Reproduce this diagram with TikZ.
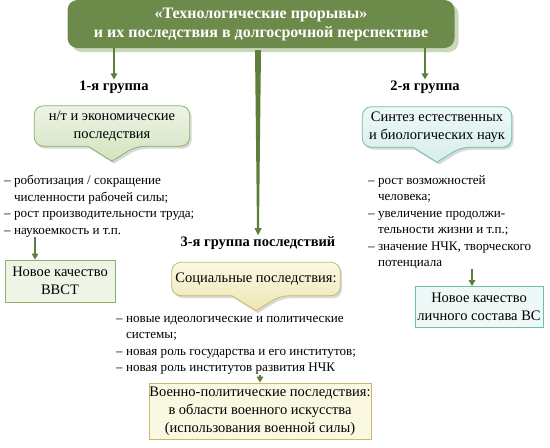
\documentclass[tikz,border=0pt]{standalone}
\usepackage{fontspec}
\setmainfont{Liberation Serif}
\usetikzlibrary{arrows.meta,positioning,calc,backgrounds,shadows}
\definecolor{ttlgreen}{HTML}{6C8B4B}
\definecolor{ttlshade}{HTML}{CAD8BA}
\definecolor{arrgreen}{HTML}{5E7E3A}
\definecolor{g1line}{HTML}{8DB06B}
\definecolor{g1top}{HTML}{EEF4E6}
\definecolor{g1bot}{HTML}{D3E3BF}
\definecolor{g2line}{HTML}{6DBDB0}
\definecolor{g2top}{HTML}{EEF8F7}
\definecolor{g2bot}{HTML}{D6EEEB}
\definecolor{g3line}{HTML}{C9B86A}
\definecolor{g3top}{HTML}{FBF8E2}
\definecolor{g3bot}{HTML}{EEE6B4}
\newcommand{\ttxt}{\rmfamily\fontsize{16}{19}\selectfont\bfseries}
\newcommand{\htxt}{\rmfamily\fontsize{14.5}{16}\selectfont\bfseries}
\newcommand{\ctxt}{\rmfamily\fontsize{14.5}{18}\selectfont}
\newcommand{\ltxt}{\rmfamily\fontsize{13.1}{16.5}\selectfont}
\newcommand{\dsh}{\phantom{– }}
% callout outline drawn behind a named node
\newcommand{\bubble}[4]{%
  \begin{scope}[on background layer]
  \draw[draw=#2, line width=0.8pt, top color=#3, bottom color=#4,
        rounded corners=9pt,
        drop shadow={shadow xshift=2pt, shadow yshift=-2.5pt, opacity=.3}]
    (#1.west) -- (#1.north west) -- (#1.north east) -- (#1.south east)
    -- ([xshift=24pt]#1.south) [sharp corners]
    -- ([yshift=-15pt]#1.south) -- ([xshift=-24pt]#1.south)
    [rounded corners=9pt] -- (#1.south west) -- cycle;
  \end{scope}}
\tikzset{
  ttl/.style={fill=ttlgreen, text=white, rounded corners=10pt, align=center,
              font=\ttxt, minimum width=387pt, minimum height=48pt,
              drop shadow={shadow xshift=4pt, shadow yshift=-4pt,
                           fill=ttlshade, opacity=1}},
  head/.style={font=\htxt, inner sep=1pt},
  callout/.style={align=center, font=\ctxt, inner sep=0pt},
  list/.style={align=left, font=\ltxt, inner sep=0pt, anchor=north west},
  resbox/.style={line width=0.8pt, align=center, font=\ctxt,
                 inner sep=0pt},
  ar/.style={-{Triangle[length=6pt,width=6.5pt]}, line width=2pt,
             draw=arrgreen},
}
\begin{document}
\begin{tikzpicture}[x=1pt, y=1pt]
\useasboundingbox (0,0) rectangle (550,-448);

% ---- title ----
\node[ttl] (ttl) at (261,-24) {«Технологические прорывы»\\
  и их последствия в долгосрочной перспективе};

% ---- group 1 ----
\node[head] (g1) at (114,-87) {1-я группа};
\node[callout, minimum width=155pt, minimum height=40pt] (c1) at (112,-126)
  {н/т и экономические\\последствия};
\bubble{c1}{g1line}{g1top}{g1bot}
\node[list] (l1) at (4,-175) {– роботизация / сокращение\\
  \dsh численности рабочей силы;\\
  – рост производительности труда;\\
  – наукоемкость и т.п.};
\node[resbox, draw=g1line, fill=g1top, minimum width=110pt,
      minimum height=42pt] (r1) at (60,-281) {Новое качество\\ВВСТ};

% ---- group 2 ----
\node[head] (g2) at (425,-87) {2-я группа};
\node[callout, minimum width=149pt, minimum height=40pt] (c2) at (437,-127)
  {Синтез естественных\\и биологических наук};
\bubble{c2}{g2line}{g2top}{g2bot}
\node[list] (l2) at (368,-175) {– рост возможностей\\
  \dsh человека;\\
  – увеличение продолжи-\\
  \dsh тельности жизни и т.п.;\\
  – значение НЧК, творческого\\
  \dsh потенциала};
\node[resbox, draw=g2line, fill=g2top, minimum width=128pt,
      minimum height=41pt] (r2) at (479,-307)
  {Новое качество\\личного состава ВС};

% ---- group 3 ----
\node[head] (g3) at (258,-243) {3-я группа последствий};
\node[callout, minimum width=168pt, minimum height=33pt] (c3) at (256,-279)
  {Социальные последствия:};
\bubble{c3}{g3line}{g3top}{g3bot}
\node[list] (l3) at (116,-316) {– новые идеологические и политические\\
  \dsh системы;\\
  – новая роль государства и его институтов;\\
  – новая роль институтов развития НЧК};
\node[resbox, draw=g3line, fill=g3top, minimum width=222pt,
      minimum height=56pt] (r3) at (260,-411)
  {Военно-политические последствия:\\в области военного искусства\\
   (использования военной силы)};

% ---- arrows ----
\draw[ar] (ttl.south -| g1) -- (g1.north);
\draw[ar] (ttl.south -| g2) -- (g2.north);
\fill[arrgreen] ($(ttl.south -| g3)+(-3,-2)$) -- ($(ttl.south -| g3)+(3,-2)$)
  -- ($(g3.north)+(1,7)$) -- ($(g3.north)+(3.5,7)$) -- (g3.north)
  -- ($(g3.north)+(-3.5,7)$) -- ($(g3.north)+(-1,7)$) -- cycle;
\coordinate (a1) at ([xshift=-25pt]r1.north);
\draw[ar] (l1.south -| a1) -- (a1);
\coordinate (a2) at ([xshift=-7pt]r2.north);
\draw[ar] (l2.south -| a2) -- (a2);
\draw[ar] (l3.south -| r3) -- (r3.north);

\end{tikzpicture}
\end{document}
